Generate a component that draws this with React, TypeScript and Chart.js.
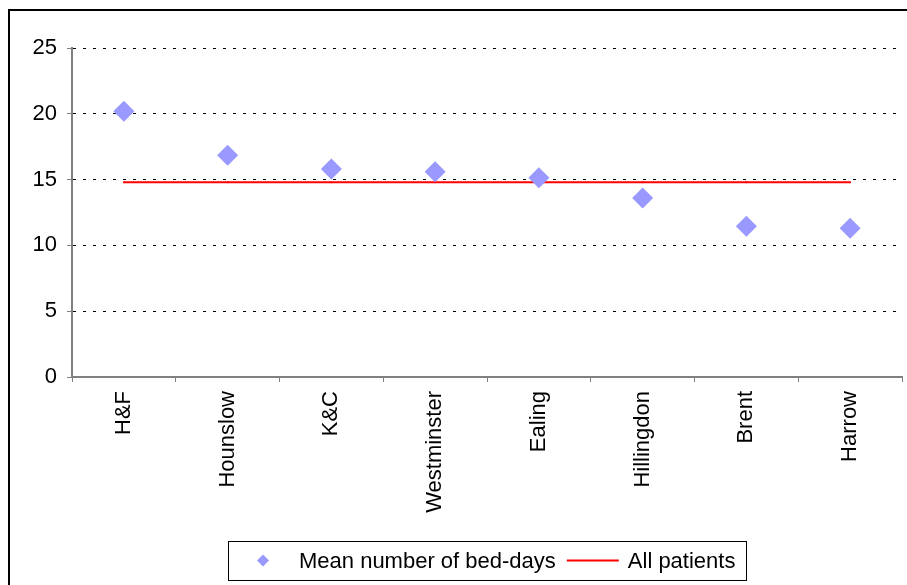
import React, { useEffect, useRef } from 'react';
import { Chart, registerables } from 'chart.js';

Chart.register(...registerables);

const categories = ['H&F', 'Hounslow', 'K&C', 'Westminster', 'Ealing', 'Hillingdon', 'Brent', 'Harrow'];
const meanBedDays = [20.2, 16.85, 15.8, 15.6, 15.15, 13.6, 11.45, 11.3];
const allPatients = [14.8, 14.8, 14.8, 14.8, 14.8, 14.8, 14.8, 14.8];
const yTicks = [0, 5, 10, 15, 20, 25];
const seriesLabels = ['Mean number of bed-days', 'All patients'];

const FONT = '"Liberation Sans", Arial, Helvetica, sans-serif';
const FONT_SIZE = 22;
const W = 899;
const H = 577;

const framePlugin = {
  id: 'frameAndLegend',
  beforeDraw(chart: any) {
    const ctx = chart.ctx;
    ctx.save();
    ctx.fillStyle = '#ffffff';
    ctx.fillRect(0, 0, chart.width, chart.height);
    ctx.strokeStyle = '#000000';
    ctx.lineWidth = 2;
    ctx.beginPath();
    ctx.moveTo(1, chart.height + 5);
    ctx.lineTo(1, 2);
    ctx.lineTo(chart.width + 5, 2);
    ctx.stroke();
    ctx.restore();
  },
  afterDraw(chart: any) {
    const ctx = chart.ctx;
    const area = chart.chartArea;
    const ds0 = chart.data.datasets[0];
    const ds1 = chart.data.datasets[1];
    ctx.save();
    ctx.font = `${FONT_SIZE}px ${FONT}`;
    const w1 = ctx.measureText(ds0.label).width;
    const w2 = ctx.measureText(ds1.label).width;
    const boxW = 35 + 36 + w1 + 11 + 52 + 9 + w2 + 11;
    const cx = (area.left + area.right) / 2;
    const left = Math.round(cx - boxW / 2);
    const top = 533;
    const boxH = 39;
    const midY = top + boxH / 2;
    ctx.strokeStyle = '#000000';
    ctx.lineWidth = 1;
    ctx.strokeRect(left + 0.5, top + 0.5, Math.round(boxW), boxH);
    const dx = left + 35;
    const r = 6;
    ctx.fillStyle = ds0.backgroundColor;
    ctx.beginPath();
    ctx.moveTo(dx - r, midY);
    ctx.lineTo(dx, midY - r);
    ctx.lineTo(dx + r, midY);
    ctx.lineTo(dx, midY + r);
    ctx.closePath();
    ctx.fill();
    ctx.fillStyle = '#000000';
    ctx.textBaseline = 'middle';
    ctx.textAlign = 'left';
    const t1x = dx + 36;
    ctx.fillText(ds0.label, t1x, midY + 1);
    const lx = t1x + w1 + 11;
    ctx.strokeStyle = ds1.borderColor;
    ctx.lineWidth = 2;
    ctx.beginPath();
    ctx.moveTo(lx, midY);
    ctx.lineTo(lx + 52, midY);
    ctx.stroke();
    ctx.fillText(ds1.label, lx + 52 + 9, midY + 1);
    ctx.restore();
  },
};

export default function App() {
  const ref = useRef<HTMLCanvasElement | null>(null);

  useEffect(() => {
    if (!ref.current) return;
    const chart = new Chart(ref.current, {
      type: 'line',
      data: {
        labels: categories,
        datasets: [
          {
            label: seriesLabels[0],
            data: meanBedDays,
            showLine: false,
            pointStyle: 'rectRot',
            pointRadius: 10.5,
            pointHoverRadius: 10.5,
            backgroundColor: '#9999FF',
            borderColor: '#9999FF',
            pointBorderWidth: 0,
          },
          {
            label: seriesLabels[1],
            data: allPatients,
            borderColor: '#FF0000',
            backgroundColor: '#FF0000',
            borderWidth: 2,
            pointRadius: 1,
            pointBorderWidth: 0,
            fill: false,
            tension: 0,
          },
        ],
      },
      options: {
        animation: false,
        responsive: false,
        events: [],
        layout: { autoPadding: false, padding: { left: 0, top: 40, right: 5, bottom: 58 } },
        plugins: {
          legend: { display: false },
          tooltip: { enabled: false },
        },
        scales: {
          x: {
            type: 'category',
            offset: true,
            grid: {
              offset: true,
              display: true,
              drawOnChartArea: false,
              drawTicks: true,
              tickLength: 5,
              tickColor: '#808080',
              tickWidth: 1,
              lineWidth: 1,
            },
            border: { display: true, color: '#808080', width: 2 },
            ticks: {
              autoSkip: false,
              minRotation: 90,
              maxRotation: 90,
              padding: 9,
              color: '#000000',
              font: { family: FONT, size: FONT_SIZE },
            },
            afterFit(scale: any) {
              scale.height = 150;
              scale.paddingLeft = 0;
              scale.paddingRight = 0;
            },
          },
          y: {
            min: yTicks[0],
            max: yTicks[yTicks.length - 1],
            afterBuildTicks(scale: any) {
              scale.ticks = yTicks.map((v) => ({ value: v }));
            },
            grid: {
              color: '#000000',
              lineWidth: 1,
              drawTicks: true,
              tickLength: 5,
              tickColor: '#808080',
              tickWidth: 1,
            },
            border: { display: true, color: '#808080', width: 2, dash: [3, 7] },
            ticks: {
              padding: 10,
              color: '#000000',
              font: { family: FONT, size: FONT_SIZE },
            },
            afterFit(scale: any) {
              scale.width = 64;
            },
          },
        },
      },
      plugins: [framePlugin],
    } as any);
    return () => chart.destroy();
  }, []);

  return (
    <div style={{ position: 'fixed', left: 8, top: 8, width: W, height: H }}>
      <canvas ref={ref} width={W} height={H} style={{ display: 'block', width: W, height: H }} />
    </div>
  );
}
